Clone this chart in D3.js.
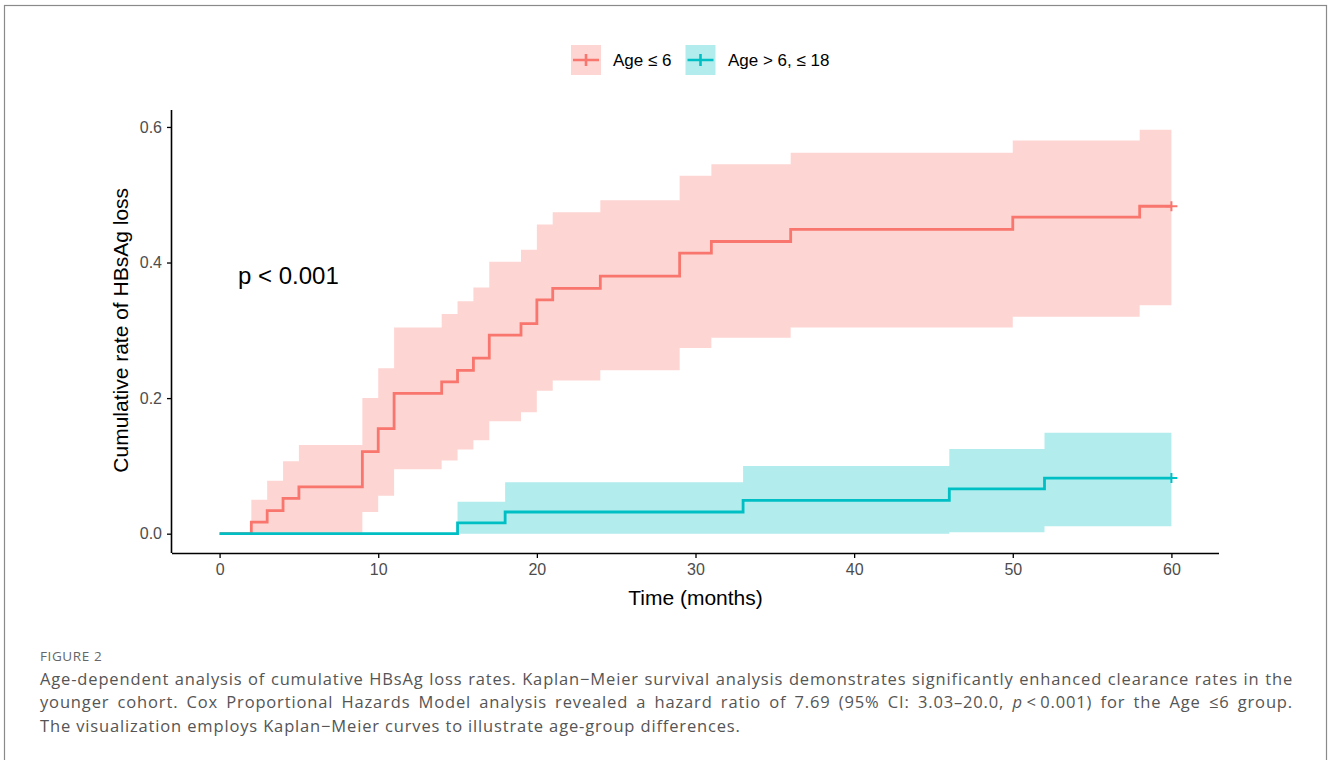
<!DOCTYPE html>
<html>
<head>
<meta charset="utf-8">
<script src="https://cdn.jsdelivr.net/npm/d3@7"></script>
<style>
  body { margin: 0; background: #fff; }
  svg { display: block; }
</style>
</head>
<body>
<svg width="1328" height="760"></svg>
<script>
// Age <= 6 group: event times, cumulative rate and 95% CI
var youngTime  = [0, 2, 3, 4, 5, 9, 10, 11, 14, 15, 16, 17, 19, 20, 21, 24, 29, 31, 36, 50, 58, 60];
var youngRate  = [0, 0.017, 0.034, 0.052, 0.069, 0.121, 0.155, 0.207, 0.224, 0.241, 0.259, 0.293, 0.310, 0.345, 0.362, 0.380, 0.414, 0.431, 0.449, 0.467, 0.483, 0.483];
var youngLower = [0, 0, 0, 0, 0, 0.032, 0.056, 0.095, 0.108, 0.124, 0.138, 0.166, 0.179, 0.211, 0.226, 0.241, 0.274, 0.289, 0.304, 0.320, 0.337, 0.337];
var youngUpper = [0, 0.050, 0.078, 0.107, 0.131, 0.200, 0.244, 0.304, 0.324, 0.343, 0.363, 0.401, 0.419, 0.456, 0.474, 0.492, 0.528, 0.545, 0.562, 0.580, 0.596, 0.596];

// Age > 6, <= 18 group
var olderTime  = [0, 15, 18, 33, 46, 52, 60];
var olderRate  = [0, 0.016, 0.032, 0.049, 0.066, 0.082, 0.082];
var olderLower = [0, 0, 0, 0, 0.002, 0.011, 0.011];
var olderUpper = [0, 0.047, 0.076, 0.100, 0.125, 0.149, 0.149];

var censorTimes = [60];
var groupNames = ["Age \u2264 6", "Age > 6, \u2264 18"];
var groupColors = ["#F8766D", "#00BFC4"];
var xTicks = [0, 10, 20, 30, 40, 50, 60];
var yTicks = [0, 0.2, 0.4, 0.6];

var captionLines = [
  "Age-dependent analysis of cumulative HBsAg loss rates. Kaplan\u2212Meier survival analysis demonstrates significantly enhanced clearance rates in the",
  "younger cohort. Cox Proportional Hazards Model analysis revealed a hazard ratio of 7.69 (95% CI: 3.03\u201320.0, <i>p</i>\u2009<\u20090.001) for the Age \u22646 group.",
  "The visualization employs Kaplan\u2212Meier curves to illustrate age-group differences."
];

var svg = d3.select("svg");

// figure frame
svg.append("rect")
    .attr("x", 4.5).attr("y", 5.5)
    .attr("width", 1322).attr("height", 800)
    .attr("fill", "none")
    .attr("stroke", "#8a8a8a")
    .attr("stroke-width", 1.2);

var x = d3.scaleLinear().domain([-3, 63]).range([172, 1219]),
    y = d3.scaleLinear().domain([-0.0285, 0.625]).range([553, 110]);

var groups = [
  {name: groupNames[0], color: groupColors[0], t: youngTime, r: youngRate, lo: youngLower, hi: youngUpper},
  {name: groupNames[1], color: groupColors[1], t: olderTime, r: olderRate, lo: olderLower, hi: olderUpper}
];

var area = d3.area()
    .curve(d3.curveStepAfter)
    .x(function(d) { return x(d.t); })
    .y0(function(d) { return y(d.lo); })
    .y1(function(d) { return y(d.hi); });

var line = d3.line()
    .curve(d3.curveStepAfter)
    .x(function(d) { return x(d.t); })
    .y(function(d) { return y(d.r); });

groups.forEach(function(g) {
  g.pts = g.t.map(function(t, i) { return {t: t, r: g.r[i], lo: g.lo[i], hi: g.hi[i]}; });
});

var plot = svg.append("g");

groups.forEach(function(g) {
  plot.append("path")
      .datum(g.pts)
      .attr("fill", g.color)
      .attr("fill-opacity", 0.3)
      .attr("d", area);
});

groups.forEach(function(g) {
  plot.append("path")
      .datum(g.pts)
      .attr("fill", "none")
      .attr("stroke", g.color)
      .attr("stroke-width", 2.8)
      .attr("d", line);

  censorTimes.forEach(function(ct) {
    var idx = d3.bisectRight(g.t, ct) - 1;
    var cx = x(ct), cy = y(g.r[idx]);
    plot.append("path")
        .attr("d", "M" + (cx - 6) + "," + cy + "H" + (cx + 6) + "M" + cx + "," + (cy - 5) + "V" + (cy + 5))
        .attr("stroke", g.color)
        .attr("stroke-width", 2);
  });
});

// axes
var xAxis = svg.append("g")
    .attr("transform", "translate(0,553)")
    .call(d3.axisBottom(x).tickValues(xTicks).tickSize(5).tickPadding(6).tickFormat(d3.format("d")));
var yAxis = svg.append("g")
    .attr("transform", "translate(172,0)")
    .call(d3.axisLeft(y).tickValues(yTicks).tickSize(5).tickPadding(5).tickFormat(d3.format(".1f")));

[xAxis, yAxis].forEach(function(a) {
  a.select(".domain").attr("stroke", "#000").attr("stroke-width", 1.6);
  a.selectAll(".tick line").attr("stroke", "#000").attr("stroke-width", 1.3);
  a.selectAll(".tick text")
      .attr("fill", "#4D4D4D")
      .style("font-family", "'Liberation Sans', Arial, sans-serif")
      .style("font-size", "16px");
});
// remove domain end caps (ggplot style)
xAxis.select(".domain").attr("d", "M172,0.5H1219");
yAxis.select(".domain").attr("d", "M-0.5,110V553");

svg.append("text")
    .attr("x", x(30)).attr("y", 605)
    .attr("text-anchor", "middle")
    .style("font-family", "'Liberation Sans', Arial, sans-serif")
    .style("font-size", "21px")
    .text("Time (months)");

svg.append("text")
    .attr("transform", "translate(128," + y(0.3) + ") rotate(-90)")
    .attr("text-anchor", "middle")
    .style("font-family", "'Liberation Sans', Arial, sans-serif")
    .style("font-size", "21px")
    .text("Cumulative rate of HBsAg loss");

svg.append("text")
    .attr("x", 238).attr("y", 284)
    .style("font-family", "'Liberation Sans', Arial, sans-serif")
    .style("font-size", "24px")
    .text("p < 0.001");

// legend
var legendPos = [{key: 571, label: 613}, {key: 685.5, label: 728}];
groups.forEach(function(g, i) {
  var lg = svg.append("g");
  var kx = legendPos[i].key, ky = 45, kw = 30, kh = 30;
  lg.append("rect")
      .attr("x", kx).attr("y", ky).attr("width", kw).attr("height", kh)
      .attr("fill", g.color).attr("fill-opacity", 0.3);
  lg.append("path")
      .attr("d", "M" + (kx + 2) + "," + (ky + kh / 2) + "H" + (kx + kw - 2) +
                 "M" + (kx + kw / 2) + "," + (ky + kh / 2 - 6) + "V" + (ky + kh / 2 + 6))
      .attr("stroke", g.color)
      .attr("stroke-width", 2.6);
  lg.append("text")
      .attr("x", legendPos[i].label).attr("y", ky + kh / 2 + 6)
      .style("font-family", "'Liberation Sans', Arial, sans-serif")
      .style("font-size", "17px")
      .text(g.name);
});

// caption
svg.append("text")
    .attr("x", 40).attr("y", 661)
    .attr("fill", "#666")
    .style("font-family", "'Open Sans', sans-serif")
    .style("font-size", "13.5px")
    .style("letter-spacing", "0.6px")
    .text("FIGURE 2");

var capY = [685, 708, 732];
captionLines.forEach(function(txt, i) {
  var t = svg.append("text")
      .attr("x", 40).attr("y", capY[i])
      .attr("fill", "#555")
      .style("font-family", "'Open Sans', sans-serif")
      .style("font-size", "16.5px")
      .style("letter-spacing", "0.85px");
  var parts = txt.split(/(<i>.*?<\/i>)/);
  parts.forEach(function(p) {
    if (!p) return;
    var m = p.match(/^<i>(.*)<\/i>$/);
    t.append("tspan").style("font-style", m ? "italic" : "normal").text(m ? m[1] : p);
  });
  if (i < 2) {
    var w = t.node().getComputedTextLength();
    var spaces = txt.split(" ").length - 1;
    t.style("word-spacing", ((1293 - 40 - w) / spaces) + "px");
  }
});
</script>
</body>
</html>
